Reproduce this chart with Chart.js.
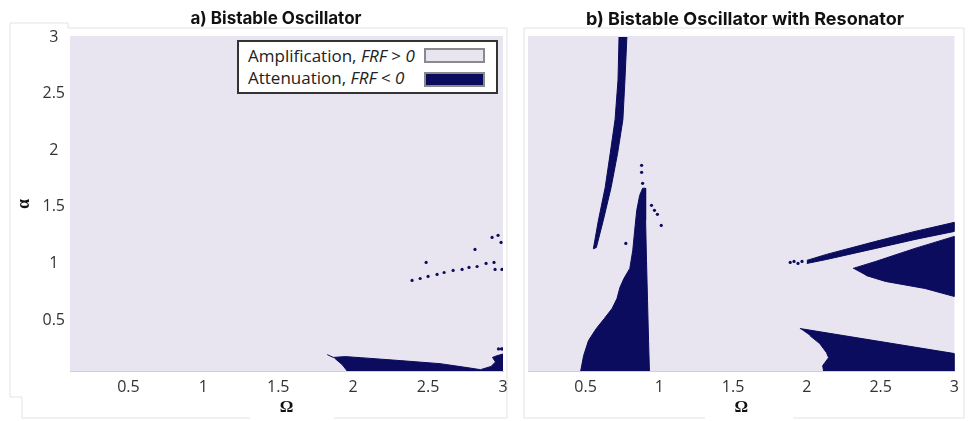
<!DOCTYPE html>
<html><head><meta charset="utf-8">
<script src="https://cdn.jsdelivr.net/npm/chart.js@4.4.1/dist/chart.umd.min.js"></script>
<style>
body{margin:0;background:#fff;width:968px;height:421px;overflow:hidden;position:relative;font-family:'Open Sans',sans-serif}
canvas{position:absolute;top:0}
#frames{position:absolute;left:0;top:0}
#legend{position:absolute;left:237px;top:40px;width:257px;height:50px;border:2px solid #333;background:#fff;color:#222;font-size:17px}
#legend .row{position:absolute;left:9px;height:22px;line-height:22px;white-space:nowrap}
#legend .sw{position:absolute;left:185px;width:57px;height:11px;border:2px solid #8a8a8a}
</style></head>
<body>
<svg id="frames" width="968" height="421">
  <polyline points="10,397 10,23 68,23 68,28 507,28 507,418 334,418" fill="none" stroke="#e3e3e3" stroke-width="1"/>
  <polyline points="250,418 22,418 22,397 10,397" fill="none" stroke="#e3e3e3" stroke-width="1"/>
  <polyline points="705,418 524,418 524,28 964,28 964,418 793,418" fill="none" stroke="#e3e3e3" stroke-width="1"/>
</svg>
<canvas id="ca" width="552" height="421" style="left:0px;width:552px;height:421px"></canvas>
<canvas id="cb" width="442" height="421" style="left:524px;width:442px;height:421px"></canvas>
<div id="legend">
  <div class="row" style="top:3px">Amplification, <i>FRF</i> &gt; <i>0</i></div>
  <div class="sw" style="top:6px;background:#e8e4f0"></div>
  <div class="row" style="top:25px">Attenuation, <i>FRF</i> &lt; <i>0</i></div>
  <div class="sw" style="top:30px;background:#0c0c5e"></div>
</div>
<script>
// ---- data (Ω, α) ----
const xTicks = [0.5, 1, 1.5, 2, 2.5, 3];
const yTicks = [0.5, 1, 1.5, 2, 2.5, 3];
const omegaRange = [0.11, 3];
const alphaRange = [0.05, 3];

// Panel a: attenuation region boundary and isolated attenuation points
const aAttenRegion = [[1.827,0.195],[1.867,0.170],[1.947,0.177],[2.047,0.168],[2.313,0.142],[2.58,0.115],[2.76,0.080],[2.85,0.062],[2.92,0.090],[2.95,0.130],[2.93,0.170],[2.96,0.185],[3.0,0.200],[3.0,0.05],[1.96,0.05],[1.927,0.106],[1.88,0.159]];
const aAttenDots = [[2.393,0.85],[2.447,0.867],[2.5,0.885],[2.56,0.903],[2.607,0.92],[2.667,0.938],[2.727,0.947],[2.773,0.965],[2.827,0.973],[2.887,1.0],[2.94,1.009],[2.993,0.947],[2.947,0.947],[2.487,1.009],[2.813,1.124],[2.927,1.23],[2.967,1.248],[2.987,1.186],[2.97,0.245],[2.99,0.245],[3.0,0.245]];

// Panel b: attenuation regions
const bUpperStreak = [[0.78,3.0],[0.767,2.62],[0.753,2.27],[0.717,1.97],[0.673,1.67],[0.62,1.38],[0.573,1.14],[0.553,1.13],[0.587,1.38],[0.633,1.67],[0.667,1.97],[0.70,2.27],[0.72,2.62],[0.727,3.0]];
const bLeftRegion = [[0.467,0.05],[0.487,0.186],[0.52,0.319],[0.573,0.425],[0.627,0.513],[0.68,0.602],[0.713,0.69],[0.733,0.788],[0.76,0.867],[0.80,0.956],[0.82,1.115],[0.833,1.292],[0.847,1.469],[0.867,1.602],[0.887,1.664],[0.907,1.664],[0.907,1.381],[0.913,1.027],[0.92,0.673],[0.927,0.319],[0.933,0.05]];
const bUpperBand = [[2.0,1.027],[2.133,1.08],[2.467,1.195],[2.733,1.283],[3.0,1.363],[3.0,1.283],[2.733,1.212],[2.467,1.133],[2.133,1.035],[2.0,1.0]];
const bWedge = [[2.313,0.956],[2.467,1.018],[2.733,1.133],[3.0,1.239],[3.0,0.708],[2.8,0.779],[2.533,0.841],[2.4,0.894]];
const bLowerRight = [[1.953,0.425],[3.0,0.204],[3.0,0.05],[2.113,0.05],[2.107,0.097],[2.147,0.168],[2.133,0.212],[2.087,0.292],[2.02,0.363]];
const bAttenDots = [[0.947,1.513],[0.967,1.469],[0.987,1.434],[1.013,1.336],[0.773,1.177],[0.88,1.867],[0.88,1.805],[0.887,1.708],[1.887,1.009],[1.913,1.018],[1.94,1.0],[1.967,1.018]];

const LAV = '#e8e4f0', NAVY = '#0c0c5e';
const toXY = pts => pts.map(p => ({x: p[0], y: p[1]}));
function poly(label, pts){
  return {label, data: toXY(pts), showLine: true, fill: 'shape', backgroundColor: NAVY, borderColor: NAVY, borderWidth: 1, pointRadius: 0, tension: 0};
}
function dots(label, pts){
  return {label, data: toXY(pts), showLine: false, pointRadius: 1.6, pointBackgroundColor: NAVY, pointBorderWidth: 0, backgroundColor: NAVY, borderColor: NAVY};
}
const bgPlugin = {id: 'bg', beforeDraw(chart){
  const {ctx, chartArea: a} = chart;
  ctx.save(); ctx.fillStyle = LAV; ctx.fillRect(a.left, a.top - 1, a.right - a.left, a.bottom - a.top + 1); ctx.restore();
}};
const tickFont = {family: "'Open Sans', sans-serif", size: 16};
function xScale(){
  return {type: 'linear', min: omegaRange[0], max: omegaRange[1],
    afterBuildTicks: s => { s.ticks = xTicks.map(v => ({value: v})); },
    afterFit: s => { s.height = 50; },
    grid: {display: false, drawTicks: false},
    border: {display: true, color: '#cfcfd8', dash: [3, 3], width: 1},
    ticks: {padding: 7, color: '#333', font: tickFont, callback: v => String(v), autoSkip: false, maxRotation: 0},
    title: {display: true, text: 'Ω', color: '#111', font: {family: "'Liberation Serif', serif", size: 17, weight: 'bold'}, padding: {top: 0, bottom: 3}}
  };
}
function yScale(show, w){
  return {type: 'linear', display: show, min: alphaRange[0], max: alphaRange[1],
    afterBuildTicks: s => { s.ticks = yTicks.map(v => ({value: v})); },
    afterFit: s => { s.width = w; },
    grid: {display: false, drawTicks: false},
    border: {display: false},
    ticks: {padding: 5, crossAlign: 'center', color: '#333', font: tickFont, callback: v => String(v), autoSkip: false},
    title: {display: true, text: 'α', color: '#111', font: {family: "'Liberation Serif', serif", size: 18, weight: 'bold'}, padding: {top: 14, bottom: 0}}
  };
}
// spacer on the right so that the title centres over the whole panel
function spacer(w){
  return {type: 'linear', position: 'right', display: true, min: 0, max: 1,
    grid: {display: false, drawTicks: false}, border: {display: false}, ticks: {display: false},
    afterFit: s => { s.width = w; }};
}
function titleOpts(text, size){
  return {display: true, text, color: '#111', font: {family: "Inter, 'Open Sans', sans-serif", size, weight: 'bold'}, padding: {top: 9, bottom: 37 - 9 - size * 1.2}};
}
const common = {responsive: false, animation: false, events: []};

new Chart(document.getElementById('ca'), {
  type: 'scatter',
  data: {datasets: [poly('Attenuation', aAttenRegion), dots('Attenuation points', aAttenDots)]},
  options: Object.assign({}, common, {
    layout: {padding: 0},
    plugins: {legend: {display: false}, tooltip: {enabled: false}, title: titleOpts('a) Bistable Oscillator', 17)},
    scales: {x: xScale(), y: yScale(true, 70), yR: spacer(49)}
  }),
  plugins: [bgPlugin]
});

new Chart(document.getElementById('cb'), {
  type: 'scatter',
  data: {datasets: [poly('Attenuation streak', bUpperStreak), poly('Attenuation left', bLeftRegion), poly('Attenuation band', bUpperBand), poly('Attenuation wedge', bWedge), poly('Attenuation lower right', bLowerRight), dots('Attenuation points', bAttenDots)]},
  options: Object.assign({}, common, {
    layout: {padding: 0},
    plugins: {legend: {display: false}, tooltip: {enabled: false}, title: titleOpts('b) Bistable Oscillator with Resonator', 18)},
    scales: {x: xScale(), y: yScale(false, 3), yR: spacer(6)}
  }),
  plugins: [bgPlugin]
});
</script>
</body></html>
